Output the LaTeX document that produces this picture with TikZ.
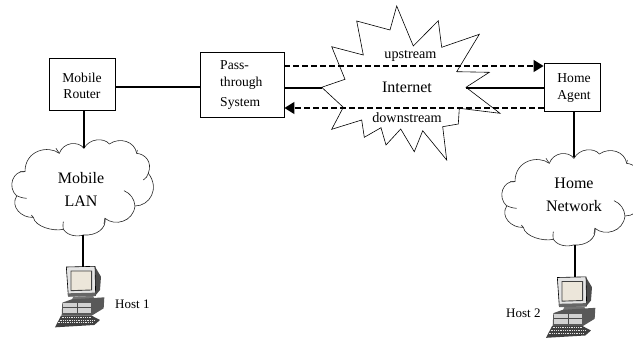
\documentclass[tikz,border=0pt]{standalone}
\usepackage{fontspec}
\setmainfont{Liberation Serif}
\usetikzlibrary{arrows.meta}
\definecolor{screen}{RGB}{236,230,218}
\tikzset{
  boxnode/.style={draw=black,line width=0.9pt,fill=white,minimum width=#1,inner sep=0pt},
  txt/.style={font=\fontsize{13.6}{16.5}\selectfont,align=center,inner sep=0pt},
  bigtxt/.style={font=\fontsize{16}{23.5}\selectfont,align=center,inner sep=0pt},
  link/.style={line width=1.6pt},
  flow/.style={line width=1.4pt,dash pattern=on 5.5pt off 3.5pt,-{Triangle[length=10pt,width=12pt]}},
  outline/.style={line width=0.6pt,black},
  pc/.pic={
    \begin{scope}[x=0.3333pt,y=-0.3333pt]
    % monitor
    \fill[black!70] (150,20) -- (168,50) -- (165,90) -- (150,108) -- cycle;
    \draw[line width=0.6pt,fill=gray!20] (64,21) -- (150,19) -- (152,106) -- (70,108) -- cycle;
    \draw[line width=0.9pt,black!75,fill=screen] (78,33) -- (140,33) -- (140,90) -- (78,92) -- cycle;
    \fill[black!60] (68,100) -- (152,98) -- (152,108) -- (70,110) -- cycle;
    \fill[black!55] (85,110) -- (145,108) -- (148,118) -- (80,120) -- cycle;
    % system unit
    \fill[black!65] (52,128) -- (80,118) -- (178,112) -- (176,145) -- (140,167) -- (50,167) -- cycle;
    \fill[gray!35] (54,130) -- (138,130) -- (138,160) -- (54,160) -- cycle;
    \draw[black!70,line width=0.4pt] (96,130) -- (96,160);
    \draw[black!70,line width=0.4pt] (54,143) -- (138,143);
    % keyboard
    \fill[black!75] (48,167) -- (140,167) -- (165,180) -- (148,195) -- (30,202) -- cycle;
    \foreach \r/\a/\b in {172/50/140,180/44/150,188/38/142}
      \draw[white!80!gray,line width=0.7pt,dash pattern=on 1pt off 0.8pt] (\a,\r) -- (\b,\r);
    \end{scope}
  }
}
\begin{document}
\begin{tikzpicture}[x=1pt,y=-1pt]
\useasboundingbox (0,0) rectangle (633,339);
\clip (0,0) rectangle (633,339);

% named anchor points
\coordinate (burstL) at (322,88);
\coordinate (burstR) at (466,88);
\coordinate (lanTop) at (84,148);
\coordinate (lanBot) at (83,235);
\coordinate (homeTop) at (574,157);
\coordinate (homeBot) at (575,245);
\coordinate (pcOneTop) at (83,267);
\coordinate (pcTwoTop) at (575,277);

% Internet burst
\draw[outline,fill=white] (396.7,6) -- (413.3,46) -- (438.3,20.7) -- (441.7,47.3) -- (479.3,34.3)
  -- (456.7,71.7) -- (489.3,72.3) -- (466,87.3) -- (500,113.3) -- (459.3,108.3) -- (458.3,124)
  -- (442.7,126.7) -- (446.7,160) -- (422.7,130.7) -- (414.3,151.7) -- (400.7,129) -- (386,145)
  -- (381,127.7) -- (364.3,137.3) -- (361.7,120) -- (331.7,129.3) -- (343.3,107.3)
  -- (321.7,87.3) -- (345,79.3) -- (331.7,46.7) -- (363.3,55) -- (356.7,21) -- (390,30) -- cycle;

% boxes
\node[boxnode=66pt,minimum height=52pt] (mr) at (82,84) {};
\node[boxnode=84pt,minimum height=65pt] (pt) at (242,84.5) {};
\node[boxnode=56pt,minimum height=48pt] (ha) at (572,87) {};

% clouds
\foreach \dx/\dy in {0/0,490/10}{
\begin{scope}[shift={(\dx,\dy)},yshift=-130pt,x=0.3333pt,y=-0.3333pt]
  \draw[outline,fill=white,draw=black!85]
    (252,55) .. controls (235,32) and (190,36) .. (178,70)
    .. controls (145,45) and (75,60) .. (75,125)
    .. controls (40,120) and (20,170) .. (50,198)
    .. controls (30,230) and (65,265) .. (100,262)
    .. controls (105,290) and (160,305) .. (190,298)
    .. controls (205,320) and (235,320) .. (250,315)
    .. controls (290,318) and (320,295) .. (315,265)
    .. controls (345,290) and (400,275) .. (405,228)
    .. controls (450,228) and (480,175) .. (445,130)
    .. controls (458,95) and (435,72) .. (410,70)
    .. controls (405,35) and (360,20) .. (328,42)
    .. controls (312,22) and (268,25) .. (252,55) -- cycle;
  \draw[outline,draw=black!85]
    (178,70) to[bend right=15] (168,55)
    (75,125) to[bend left=10] (60,125)
    (50,197) to[bend right=10] (80,205)
    (100,262) to (94,255)
    (190,298) to[bend left=10] (190,275)
    (315,265) to (312,282)
    (405,228) to[bend right=30] (372,182)
    (445,130) to[bend left=20] (430,150)
    (410,70) to (412,60);
\end{scope}
}

% computers
\pic at (45,260) {pc};
\pic at (536,270.5) {pc};

% connectors
\draw[link] (mr.east |- 0,87) -- (pt.west |- 0,87);
\draw[link] (pt.east |- burstL) -- (burstL);
\draw[link] (burstR) -- (ha.west |- burstR);
\draw[link] (mr.south -| lanTop) -- (lanTop);
\draw[link] (lanBot) -- (pcOneTop);
\draw[link] (ha.south -| homeTop) -- (homeTop);
\draw[link] (homeBot) -- (pcTwoTop);
\draw[flow] (pt.east |- 0,66) -- (ha.west |- 0,66);
\draw[flow] (ha.west |- 0,108) -- (pt.east |- 0,108);

% labels
\node[txt] (mrT) at (82,86) {Mobile\\Router};
\node[txt,align=left,anchor=north west] (ptT) at (220,60.5) {Pass-\\[0pt]through\\[4pt]System};
\node[txt] (haT) at (574,88) {Home\\Agent};
\node[font=\fontsize{16}{18}\selectfont,inner sep=0pt] (inet) at (407,87) {Internet};
\node[font=\fontsize{14.2}{18}\selectfont,inner sep=0pt] (up) at (410.5,56) {upstream};
\node[font=\fontsize{14.2}{18}\selectfont,inner sep=0pt] (down) at (407,118) {downstream};
\node[bigtxt] (lanT) at (81,189.5) {Mobile\\LAN};
\node[bigtxt] (homeT) at (574,195) {Home\\Network};
\node[txt,font=\fontsize{13}{16}\selectfont,anchor=west] (h1) at (115,304) {Host 1};
\node[txt,font=\fontsize{13}{16}\selectfont,anchor=west] (h2) at (506,313) {Host 2};
\end{tikzpicture}
\end{document}
